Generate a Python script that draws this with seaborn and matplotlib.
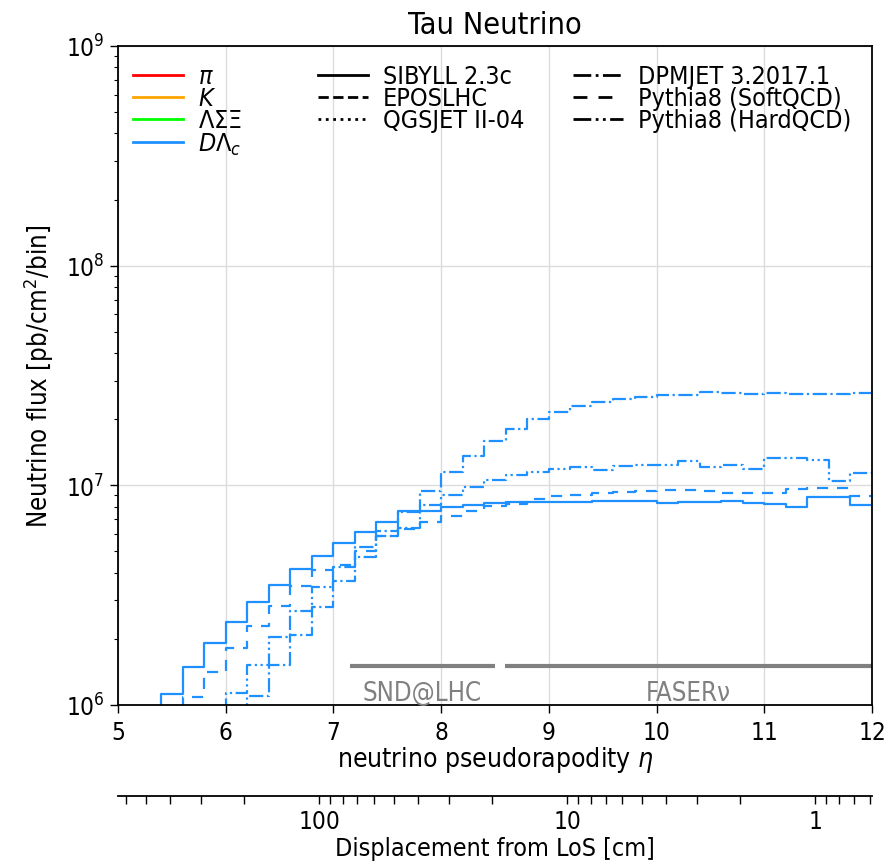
import numpy as np
import pandas as pd
import matplotlib
matplotlib.use("Agg")
import matplotlib.pyplot as plt
import seaborn as sns
from matplotlib.lines import Line2D
from matplotlib.ticker import FuncFormatter, NullFormatter, LogLocator

# ---------------- data (flux in units of 1e6 pb/cm^2/bin, 0.2-wide eta bins) ----------------
bin_width = 0.2

sibyll_start = 5.2
sibyll_flux = [0.80, 1.122, 1.484, 1.915, 2.394, 2.934, 3.525, 4.138, 4.782, 5.475,
               6.112, 6.786, 7.615, 7.662, 7.94, 8.135, 8.28, 8.37, 8.42, 8.42,
               8.40, 8.51, 8.51, 8.51, 8.31, 8.42, 8.42, 8.48, 8.31, 8.22,
               7.99, 8.82, 8.85, 8.135]

dpmjet_start = 6.0
dpmjet_flux = [0.85, 1.102, 1.521, 2.083, 2.784, 3.656, 5.22, 6.215, 6.37, 9.45,
               11.53, 13.64, 15.96, 18.05, 20.04, 21.63, 22.89, 24.02, 24.71, 25.15,
               25.84, 25.84, 26.50, 26.22, 25.95, 26.22, 26.03, 25.95, 25.95, 26.39]

pythia_soft_start = 5.4
pythia_soft_flux = [0.80, 1.084, 1.409, 1.812, 2.296, 2.831, 3.47, 4.117, 4.338, 5.02,
                    5.88, 6.326, 6.786, 7.27, 7.615, 8.025, 8.22, 8.66, 8.91, 9.06,
                    9.20, 9.29, 9.42, 9.52, 9.49, 9.45, 9.23, 9.23, 9.23, 9.62,
                    9.69, 9.72, 8.97]

pythia_hard_start = 5.8
pythia_hard_flux = [0.85, 1.13, 1.521, 2.033, 2.687, 3.435, 4.235, 4.70, 5.90, 7.56,
                    8.135, 9.03, 9.85, 10.6, 11.17, 11.46, 11.87, 12.08, 11.78, 12.21,
                    12.38, 12.38, 12.9, 12.08, 12.38, 11.87, 13.27, 13.27, 13.08, 10.49,
                    11.34]

detectors = ["SND@LHC", "FASERν"]
det_eta_min = [7.15, 8.59]
det_eta_max = [8.50, 12.0]
det_flux = 1.5e6

parent_labels = [r"$\pi$", r"$K$", r"$\Lambda\Sigma\Xi$", r"$D\Lambda_c$"]
parent_colors = ["red", "orange", "lime", "dodgerblue"]
gen_labels_1 = ["SIBYLL 2.3c", "EPOSLHC", "QGSJET II-04"]
gen_styles_1 = ["-", "--", ":"]
gen_labels_2 = ["DPMJET 3.2017.1", "Pythia8 (SoftQCD)", "Pythia8 (HardQCD)"]
LS_DASHDOT = (0, (6.4, 1.6, 1.0, 1.6))
LS_LONGDASH = (0, (5.0, 4.0))
LS_DASHDOTDOT = (0, (6.4, 1.6, 1.0, 1.6, 1.0, 1.6))
gen_styles_2 = [LS_DASHDOT, LS_LONGDASH, LS_DASHDOTDOT]

# displacement from line of sight: d = 2 L exp(-eta), L = 480 m
los_scale_cm = 96000.0

# ---------------- figure ----------------
plt.rcParams["font.family"] = ["DejaVu Sans"]
plt.rcParams["font.stretch"] = "condensed"
plt.rcParams["mathtext.fontset"] = "dejavusans"

fig = plt.figure(figsize=(8.87, 8.62), dpi=100)
ax = fig.add_axes([0.1330, 0.1810, 0.8501, 0.7645])

blue = "dodgerblue"
LW = 1.6


def draw(start, flux, ls):
    n = len(flux)
    edges = [round(start + bin_width * i, 3) for i in range(n + 1)]
    centers = [e + bin_width / 2 for e in edges[:-1]]
    df = pd.DataFrame({"eta": centers, "flux": np.asarray(flux) * 1e6})
    sns.histplot(data=df, x="eta", weights="flux", bins=edges, element="step",
                 fill=False, color=blue, linestyle=ls, linewidth=LW, ax=ax)


draw(sibyll_start, sibyll_flux, "-")
draw(pythia_soft_start, pythia_soft_flux, LS_LONGDASH)
draw(pythia_hard_start, pythia_hard_flux, LS_DASHDOTDOT)
draw(dpmjet_start, dpmjet_flux, LS_DASHDOT)

ax.set_yscale("log")
ax.set_xlim(5, 12)
ax.set_ylim(1e6, 1e9)
ax.grid(True, which="major", color="#dcdcdc", linewidth=1.0)
ax.set_axisbelow(True)
for s in ax.spines.values():
    s.set_linewidth(1.3)

ax.tick_params(axis="both", which="major", labelsize=17.5, length=6, width=1)
ax.tick_params(axis="x", which="major", pad=5)
ax.tick_params(axis="both", which="minor", length=3, width=0.8)
ax.set_xlabel(r"neutrino pseudorapodity $\eta$", fontsize=19, labelpad=0)
ax.set_ylabel(r"Neutrino flux [pb/cm$^2$/bin]", fontsize=18.5, labelpad=7)
ax.set_title("Tau Neutrino", fontsize=22, pad=9)

# detector coverage bars
for name, lo, hi in zip(detectors, det_eta_min, det_eta_max):
    ax.hlines(det_flux, lo, hi, color="gray", linewidth=3)
    ax.text((lo + hi) / 2, det_flux * 0.865, name, color="gray", fontsize=18.5,
            ha="center", va="top")

# legends
h1 = [Line2D([], [], color=c, lw=2) for c in parent_colors]
h2 = [Line2D([], [], color="black", lw=2, linestyle=s) for s in gen_styles_1]
h3 = [Line2D([], [], color="black", lw=2, linestyle=s) for s in gen_styles_2]
common = dict(frameon=False, fontsize=18, loc="upper left", borderpad=0,
              borderaxespad=0, handlelength=2.0, handletextpad=0.6,
              labelspacing=-0.08)
leg1 = ax.legend(h1, parent_labels, bbox_to_anchor=(0.020, 0.972), **common)
ax.add_artist(leg1)
leg2 = ax.legend(h2, gen_labels_1, bbox_to_anchor=(0.265, 0.972), **common)
ax.add_artist(leg2)
leg3 = ax.legend(h3, gen_labels_2, bbox_to_anchor=(0.603, 0.972), **common)

# displacement axis
ax2 = fig.add_axes([0.1330, 0.0754, 0.8501, 0.0001])
ax2.set_facecolor("none")
for side in ["left", "right", "top"]:
    ax2.spines[side].set_visible(False)
ax2.spines["bottom"].set_linewidth(1.3)
ax2.set_yticks([])
ax2.set_xscale("log")
ax2.set_xlim(los_scale_cm * np.exp(-5), los_scale_cm * np.exp(-12))
ax2.xaxis.set_major_locator(LogLocator(base=10))
ax2.xaxis.set_minor_locator(LogLocator(base=10, subs=np.arange(2, 10)))
ax2.xaxis.set_major_formatter(FuncFormatter(lambda v, p: f"{v:g}"))
ax2.xaxis.set_minor_formatter(NullFormatter())
ax2.tick_params(axis="x", which="both", length=6, width=1, labelsize=17.5)
ax2.set_xlabel("Displacement from LoS [cm]", fontsize=18, labelpad=2)

fig.savefig("out.png", dpi=100)
